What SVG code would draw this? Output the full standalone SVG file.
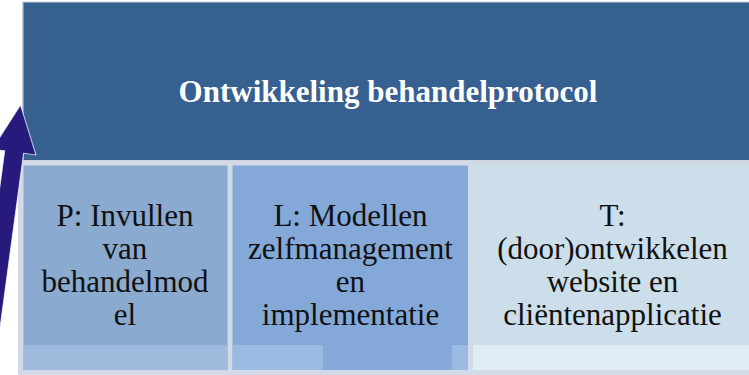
<svg xmlns="http://www.w3.org/2000/svg" width="749" height="375" viewBox="0 0 749 375">
  <style>
    .lbl { font-family: 'Liberation Serif', 'DejaVu Serif', serif; font-size: 31px; fill: #111111; text-anchor: middle; }
    .title { font-family: 'Liberation Serif', 'DejaVu Serif', serif; font-size: 31px; font-weight: bold; fill: #ffffff; text-anchor: middle; }
  </style>
  <rect x="0" y="0" width="749" height="375" fill="#ffffff"/>
  <rect x="18" y="158" width="731" height="217" fill="#d3dae7"/>
  <g id="top">
    <rect x="22" y="1.5" width="727" height="159" fill="#c9cfdb"/>
    <rect x="23.5" y="2.5" width="725.5" height="157.5" fill="#36608f"/>
    <text class="title" x="388" y="102">Ontwikkeling behandelprotocol</text>
  </g>
  <g id="panelP">
    <rect x="23.5" y="165.5" width="204" height="204.5" fill="#8aaad0"/>
    <rect x="23.5" y="345" width="204" height="25" fill="#9fbadc"/>
    <text class="lbl" x="125" y="226">P: Invullen</text>
    <text class="lbl" x="125" y="259">van</text>
    <text class="lbl" x="125" y="292">behandelmod</text>
    <text class="lbl" x="125" y="325">el</text>
  </g>
  <g id="panelL">
    <rect x="232.5" y="165.5" width="235.5" height="204.5" fill="#84a9d9"/>
    <rect x="232.5" y="345" width="90.5" height="25" fill="#9abae4"/>
    <rect x="452" y="345" width="16" height="25" fill="#9abae4"/>
    <text class="lbl" x="350.5" y="226">L: Modellen</text>
    <text class="lbl" x="350.5" y="259">zelfmanagement</text>
    <text class="lbl" x="350.5" y="292">en</text>
    <text class="lbl" x="350.5" y="325">implementatie</text>
  </g>
  <g id="panelT">
    <rect x="473" y="165.5" width="276" height="204.5" fill="#cbdeea"/>
    <rect x="473" y="345" width="276" height="25" fill="#dfeef5"/>
    <text class="lbl" x="612.5" y="226">T:</text>
    <text class="lbl" x="612.5" y="259">(door)ontwikkelen</text>
    <text class="lbl" x="612.5" y="292">website en</text>
    <text class="lbl" x="612.5" y="325">cliëntenapplicatie</text>
  </g>
  <g id="connectors">
    <polygon transform="rotate(7.7 20.5 105)" points="20.5,105 42.5,152.5 30,152.5 30,420 11,420 11,152.5 -1.5,152.5" fill="#261b7d" stroke="#ffffff" stroke-width="1" stroke-opacity="0.7"/>
  </g>
</svg>
